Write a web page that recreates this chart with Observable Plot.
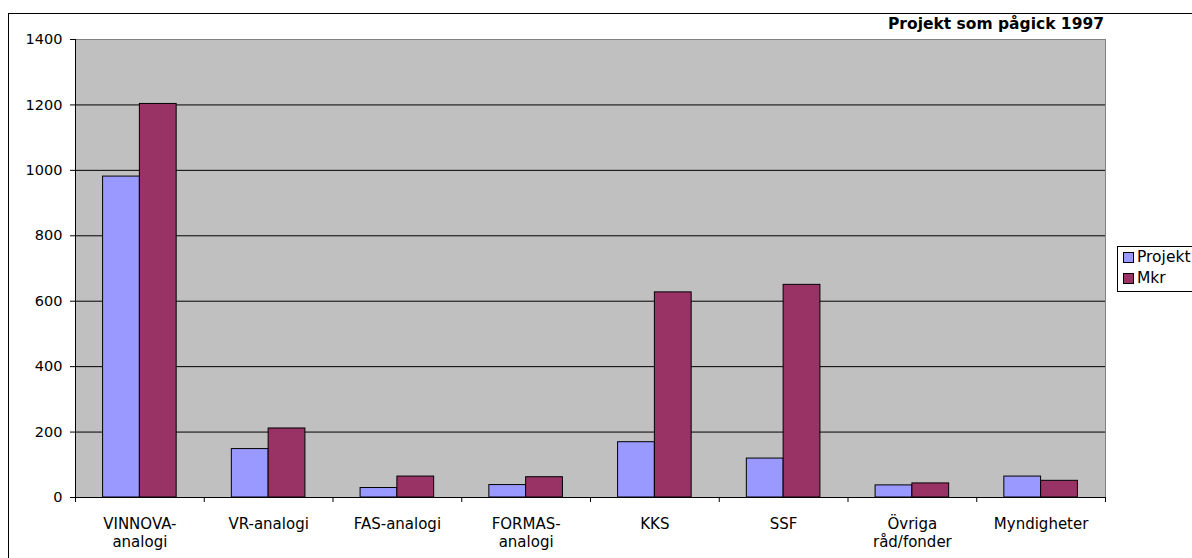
<!DOCTYPE html>
<html>
<head>
<meta charset="utf-8">
<script src="https://cdn.jsdelivr.net/npm/d3@7"></script>
<script src="https://cdn.jsdelivr.net/npm/@observablehq/plot@0.6"></script>
<style>
  html, body { margin: 0; padding: 0; background: #fff; overflow: hidden; width: 1192px; height: 558px; }
  #wrap { position: relative; width: 1192px; height: 558px; font-family: "DejaVu Sans", Verdana, sans-serif; }
  #border { position: absolute; left: 8px; top: 13px; width: 1300px; height: 700px; border: 1px solid #000; box-sizing: border-box; }
  #chart { position: absolute; left: 0; top: 0; }
  #title { position: absolute; right: 88px; top: 17px; font-weight: bold; font-size: 15.5px; color: #000; white-space: nowrap; line-height: 1; }
  #legend { position: absolute; left: 1117px; top: 246px; width: 120px; height: 46px; border: 1px solid #000; box-sizing: border-box; background: #fff; font-size: 15.5px; }
  .item { position: absolute; left: 5px; display: flex; align-items: center; white-space: nowrap; line-height: 1; }
  .sw { width: 9px; height: 9px; border: 1px solid #000; margin-right: 3px; }
</style>
</head>
<body>
<div id="wrap">
  <div id="border"></div>
  <div id="chart"></div>
  <div id="title"></div>
  <div id="legend"></div>
</div>
<script>
const categories = ["VINNOVA-\nanalogi", "VR-analogi", "FAS-analogi", "FORMAS-\nanalogi", "KKS", "SSF", "Övriga\nråd/fonder", "Myndigheter"];
const series = ["Projekt", "Mkr"];
const projektValues = [981, 148, 29, 38, 169, 119, 37, 64];
const mkrValues = [1203, 211, 64, 62, 627, 650, 43, 51];
const seriesColors = ["#9999FF", "#993366"];
const yTicks = [0, 200, 400, 600, 800, 1000, 1200, 1400];
const titleText = "Projekt som pågick 1997";

const rows = [];
categories.forEach((c, i) => {
  rows.push({i, cat: c, series: series[0], value: projektValues[i]});
  rows.push({i, cat: c, series: series[1], value: mkrValues[i]});
});

// sub-band for grouped bars within each category slot (Excel gap width 150%)
const sub = d3.scaleBand().domain(series).range([0, 1]).paddingInner(0).paddingOuter(0.75);

const chart = Plot.plot({
  width: 1192,
  height: 558,
  marginLeft: 75,
  marginRight: 87,
  marginTop: 39,
  marginBottom: 61,
  style: {fontFamily: "DejaVu Sans, Verdana, sans-serif", fontSize: "15px", color: "#000", background: "transparent"},
  x: {type: "linear", domain: [0, categories.length], axis: null, label: null},
  y: {domain: [0, 1400], axis: null, label: null},
  color: {domain: series, range: seriesColors},
  marks: [
    Plot.frame({fill: "#C0C0C0", stroke: null}),
    Plot.gridY(yTicks.slice(1, -1), {stroke: "#000", strokeOpacity: 1, strokeWidth: 1}),
    Plot.ruleY([1400], {stroke: "#808080", strokeWidth: 1}),
    Plot.ruleX([categories.length], {stroke: "#808080", strokeWidth: 1}),
    Plot.rectY(rows, {
      x1: d => d.i + sub(d.series),
      x2: d => d.i + sub(d.series) + sub.bandwidth(),
      y: "value",
      fill: "series",
      stroke: "#000",
      strokeWidth: 1
    }),
    Plot.ruleY([0], {stroke: "#000"}),
    Plot.ruleX([0], {stroke: "#000"}),
    Plot.axisY(yTicks, {tickSize: 5, tickPadding: 8, label: null, fontSize: 14.5, tickFormat: d => String(d), stroke: "#000"}),
    Plot.axisX(d3.range(categories.length + 1), {tickSize: 5, label: null, tickFormat: () => "", stroke: "#000"}),
    Plot.axisX(categories.map((c, i) => i + 0.5), {tickSize: 0, tickPadding: 19, label: null, lineHeight: 1.17, tickFormat: v => categories[Math.floor(v)]})
  ]
});
document.getElementById("chart").appendChild(chart);
document.getElementById("title").textContent = titleText;

const legend = document.getElementById("legend");
series.forEach((s, k) => {
  const item = document.createElement("div");
  item.className = "item";
  item.style.top = (k === 0 ? 3 : 24) + "px";
  const sw = document.createElement("div");
  sw.className = "sw";
  sw.style.background = seriesColors[k];
  const t = document.createElement("span");
  t.textContent = s;
  item.appendChild(sw);
  item.appendChild(t);
  legend.appendChild(item);
});
</script>
</body>
</html>
